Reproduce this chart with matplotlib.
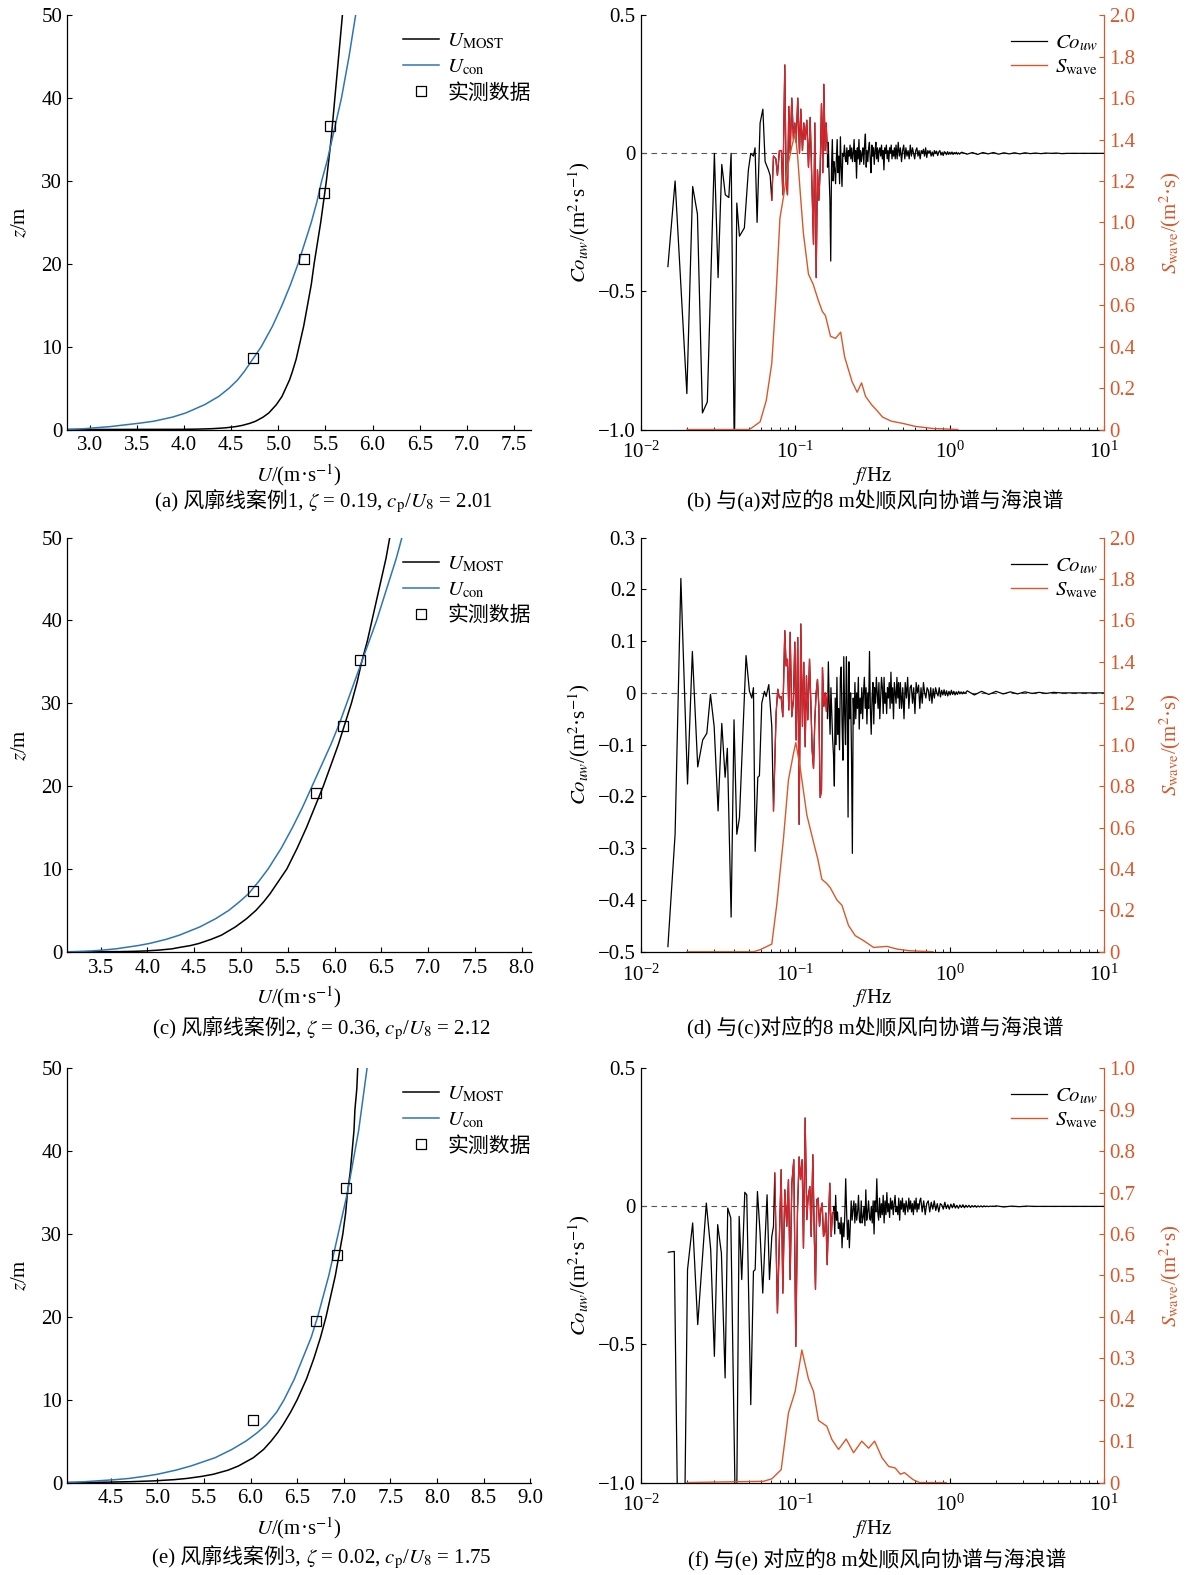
import numpy as np
import matplotlib
matplotlib.use('Agg')
import matplotlib.pyplot as plt
from matplotlib.ticker import FuncFormatter

plt.rcParams['font.family'] = ['Liberation Serif', 'Noto Sans CJK SC']
plt.rcParams['mathtext.fontset'] = 'stix'
plt.rcParams['font.size'] = 15
plt.rcParams['xtick.direction'] = 'in'
plt.rcParams['ytick.direction'] = 'in'
plt.rcParams['axes.linewidth'] = 0.9

BLUE = '#2e75b6'
ORANGE = '#d8582a'
RED = '#e1242b'

# ---------------- wind profiles (a), (c), (e) ----------------
prof_z = [0, 0.02, 0.05, 0.1, 0.2, 0.35, 0.5, 0.75, 1, 1.5, 2, 3, 4, 5, 6, 7, 8.5, 10, 12.5, 15,
          17.5, 20, 22.5, 25, 27.5, 30, 32.5, 35, 37.5, 40, 42.5, 45, 47.5, 50]

a_most = [2.76, 3.98, 4.16, 4.30, 4.44, 4.55, 4.62, 4.70, 4.76, 4.84, 4.90, 4.98, 5.04, 5.08, 5.12, 5.15,
          5.19, 5.22, 5.27, 5.31, 5.35, 5.38, 5.415, 5.45, 5.48, 5.51, 5.535, 5.56, 5.58, 5.60, 5.62,
          5.64, 5.66, 5.68]
a_con = [2.76, 2.80, 2.87, 2.95, 3.05, 3.22, 3.33, 3.52, 3.68, 3.88, 4.02, 4.22, 4.37, 4.48, 4.57, 4.64,
         4.73, 4.82, 4.94, 5.04, 5.13, 5.21, 5.28, 5.35, 5.41, 5.46, 5.52, 5.57, 5.62, 5.67, 5.71,
         5.75, 5.785, 5.82]
a_obs_u = [4.73, 5.27, 5.48, 5.55]
a_obs_z = [8.6, 20.6, 28.6, 36.6]

c_most = [3.14, 3.70, 3.85, 3.98, 4.12, 4.26, 4.33, 4.46, 4.55, 4.68, 4.79, 4.94, 5.06, 5.16, 5.24, 5.31,
          5.40, 5.49, 5.60, 5.70, 5.79, 5.88, 5.96, 6.04, 6.11, 6.18, 6.24, 6.29, 6.35, 6.40, 6.45,
          6.50, 6.55, 6.59]
c_con = [3.14, 3.22, 3.30, 3.40, 3.52, 3.66, 3.75, 3.90, 4.02, 4.20, 4.34, 4.56, 4.73, 4.87, 4.98, 5.08,
         5.19, 5.29, 5.43, 5.55, 5.66, 5.76, 5.86, 5.96, 6.05, 6.13, 6.21, 6.29, 6.37, 6.45, 6.52,
         6.59, 6.66, 6.72]
c_obs_u = [5.13, 5.80, 6.09, 6.27]
c_obs_z = [7.3, 19.2, 27.2, 35.2]

e_most = [4.03, 4.30, 4.48, 4.70, 4.96, 5.18, 5.32, 5.48, 5.60, 5.76, 5.87, 6.03, 6.14, 6.22, 6.29, 6.35,
          6.43, 6.50, 6.60, 6.68, 6.75, 6.81, 6.86, 6.91, 6.95, 6.99, 7.02, 7.04, 7.07, 7.09, 7.11,
          7.12, 7.14, 7.15]
e_con = [4.03, 4.08, 4.14, 4.22, 4.35, 4.55, 4.70, 4.86, 5.00, 5.20, 5.36, 5.62, 5.80, 5.95, 6.07, 6.17,
         6.28, 6.36, 6.47, 6.56, 6.65, 6.72, 6.78, 6.84, 6.89, 6.94, 6.99, 7.04, 7.08, 7.12, 7.16,
         7.19, 7.22, 7.25]
e_obs_u = [6.03, 6.70, 6.93, 7.02]
e_obs_z = [7.5, 19.5, 27.5, 35.6]

# ---------------- spectra (b) ----------------
b_f_lo = [0.0150, 0.0167, 0.0199, 0.0217, 0.0233, 0.0251, 0.0270, 0.0300, 0.0317, 0.0335, 0.0353, 0.0372,
          0.0385, 0.0404, 0.0419, 0.0436, 0.0469, 0.0498, 0.0516, 0.0537, 0.0550, 0.0567, 0.0593, 0.0618,
          0.0639, 0.0671, 0.0689, 0.0706]
b_co_lo = [-0.41, -0.10, -0.87, -0.12, -0.22, -0.94, -0.90, 0.00, -0.45, -0.04, -0.15, -0.16,
           0.00, -1.10, -0.18, -0.30, -0.27, -0.06, 0.00, -0.01, 0.02, -0.25, 0.11, 0.16,
           -0.03, -0.06, -0.08, -0.17]
b_f_red = [0.0706, 0.0724, 0.0750, 0.0768, 0.0791, 0.0815, 0.0832, 0.0857, 0.0874, 0.0892, 0.0910, 0.0928,
           0.0951, 0.0975, 0.0995, 0.1015, 0.1040, 0.1067, 0.1088, 0.1115, 0.1138, 0.1161, 0.1190, 0.1220,
           0.1251, 0.1282, 0.1315, 0.1341, 0.1368, 0.1395, 0.1424, 0.1452, 0.1481, 0.1511, 0.1534, 0.1564,
           0.1587, 0.1620]
b_co_red = [-0.17, -0.01, -0.02, -0.08, 0.01, 0.01, -0.15, 0.32, -0.10, -0.15, 0.17, 0.00,
            0.20, 0.05, 0.11, 0.04, 0.20, 0.00, 0.16, 0.01, 0.11, 0.05, 0.12, -0.05,
            0.13, -0.10, -0.33, 0.11, -0.45, -0.06, -0.17, -0.06, 0.18, -0.07, 0.25, 0.01,
            0.11, 0.00]
b_hf_edges = [0.162, 0.45, 1.2, 10.0]
b_co_hf = [
    [-0.05, 0.04, -0.08, -0.17, -0.39, -0.05, 0.05, -0.10, -0.03, -0.06,
     -0.11, -0.02, 0.05, -0.07, -0.01, -0.11, 0.06, -0.05, -0.12, 0.00,
     -0.01, 0.03, -0.02, -0.03, 0.02, -0.04, 0.01, -0.01, 0.03, -0.02,
     0.02, -0.03, 0.00, 0.05, -0.03, 0.01, -0.09, 0.02, -0.02, 0.05,
     -0.04, 0.01, -0.03, 0.00, 0.02, -0.04, 0.03, 0.07, -0.05, 0.01,
     -0.03, 0.02, 0.04, -0.02, -0.07, 0.03, -0.01, 0.02, -0.04, 0.01,
     0.04, -0.02, 0.02, -0.03, 0.01, 0.02, -0.01, 0.03, -0.02, 0.01,
     -0.06, 0.02, 0.00, 0.03, -0.02, 0.01, -0.03, 0.02, 0.00, 0.03,
     -0.02, 0.01, -0.01, 0.02, -0.02],
    [0.03, -0.02, 0.04, -0.01, 0.02, -0.03, 0.01, 0.03, -0.02, 0.02,
     -0.01, 0.01, -0.02, 0.03, -0.01, 0.02, 0.00, -0.02, 0.01, 0.02,
     -0.01, 0.01, -0.02, 0.01, 0.00, 0.015, -0.01, 0.02, -0.015, 0.01,
     0.00, 0.01, -0.01, 0.005, -0.01, 0.01, 0.00, 0.008, -0.008, 0.005,
     0.01, -0.006, 0.004, -0.008, 0.006, 0.003, -0.005, 0.006, -0.004, 0.004,
     -0.003, 0.005, -0.004, 0.003, -0.002, 0.004, -0.003, 0.002, -0.003, 0.002],
    [0.004, -0.003, 0.003, -0.004, 0.003, -0.002, 0.003, -0.003, 0.002, -0.002, 0.002, -0.002,
     0.002, -0.001, 0.001, -0.001, 0.001, 0.0, 0.001, -0.001, 0.0, 0.0, 0.0, 0.0, 0.0, 0.0, 0.0, 0.0],
]
b_sw_f = [0.0199, 0.0484, 0.0506, 0.0593, 0.0650, 0.0706, 0.0750, 0.0797, 0.0839, 0.0904, 0.0950, 0.1000,
          0.1035, 0.1080, 0.1130, 0.1220, 0.1310, 0.1410, 0.1500, 0.1571, 0.1694, 0.1828, 0.1971, 0.2092,
          0.2339, 0.2522, 0.2692, 0.2856, 0.3124, 0.340, 0.368, 0.42, 0.494, 0.60, 0.776, 1.13]
b_sw = [0.0, 0.0, 0.0, 0.037, 0.14, 0.32, 0.63, 1.02, 1.12, 1.285, 1.365, 1.43,
        1.33, 1.14, 0.95, 0.75, 0.70, 0.625, 0.57, 0.55, 0.45, 0.44, 0.47, 0.35,
        0.23, 0.18, 0.225, 0.16, 0.12, 0.09, 0.06, 0.04, 0.03, 0.015, 0.005, 0.0]

# ---------------- spectra (d) ----------------
d_f_lo = [0.0150, 0.0167, 0.0182, 0.0201, 0.0216, 0.0234, 0.0252, 0.0268, 0.0283, 0.0299, 0.0317, 0.0335,
          0.0352, 0.0364, 0.0385, 0.0402, 0.0419, 0.0436, 0.0481, 0.0506, 0.0524, 0.0537, 0.0551, 0.0573,
          0.0587, 0.0608, 0.0633, 0.0649, 0.0675, 0.0706]
d_co_lo = [-0.490, -0.273, 0.221, -0.176, 0.080, -0.143, -0.091, -0.078, -0.003, -0.065, -0.228, -0.059,
           -0.163, -0.107, -0.433, -0.052, -0.273, -0.241, 0.072, 0.003, -0.010, 0.010, -0.306, -0.163,
           -0.160, -0.020, 0.003, -0.007, 0.016, -0.065]
d_f_red = [0.0724, 0.0753, 0.0772, 0.0791, 0.0811, 0.0832, 0.0857, 0.0874, 0.0892, 0.0910, 0.0928, 0.0951,
           0.0975, 0.0995, 0.1015, 0.1040, 0.1061, 0.1088, 0.1115, 0.1138, 0.1161, 0.1184, 0.1208, 0.1239,
           0.1264, 0.1289, 0.1315, 0.1341, 0.1368, 0.1395, 0.1424, 0.1452, 0.1481, 0.1503, 0.1534, 0.1564,
           0.1595, 0.1620]
d_co_red = [-0.228, -0.039, 0.007, -0.010, -0.007, -0.046, 0.120, 0.052, 0.065, -0.033, 0.117, -0.046,
            -0.013, 0.098, -0.091, 0.107, -0.254, 0.133, -0.065, 0.059, -0.104, 0.033, -0.052, 0.065,
            -0.020, -0.111, -0.146, -0.052, 0.000, 0.026, -0.026, -0.202, -0.189, 0.049, -0.026, 0.000,
            -0.036, 0.000]
d_hf_edges = [0.162, 0.48, 1.3, 10.0]
d_co_hf = [
    [-0.05, 0.06, -0.02, -0.08, 0.01, -0.04, -0.09, -0.12, -0.18, -0.01,
     -0.10, 0.03, -0.08, -0.03, -0.11, 0.03, 0.05, -0.06, -0.13, 0.07,
     -0.04, -0.10, 0.07, -0.02, -0.24, 0.06, -0.05, 0.00, -0.12, -0.31,
     -0.01, -0.06, 0.02, -0.05, 0.00, -0.03, 0.03, -0.07, -0.01, -0.04,
     0.01, -0.05, 0.00, 0.03, -0.03, 0.01, -0.06, 0.00, -0.03, 0.08,
     -0.03, -0.08, -0.01, 0.02, -0.06, 0.01, -0.02, 0.03, 0.00, -0.03,
     0.02, -0.05, -0.01, 0.03, 0.01, -0.04, 0.03, -0.02, 0.00, -0.04,
     0.01, -0.01, 0.02, -0.03, 0.04, -0.02, 0.01, -0.05, 0.02, 0.00,
     -0.02, 0.03, -0.01, 0.02, -0.03],
    [0.02, -0.03, 0.01, -0.05, 0.02, -0.01, 0.03, -0.03, 0.01, 0.015,
     -0.02, 0.01, -0.04, 0.02, 0.00, 0.015, -0.03, 0.01, -0.02, 0.02,
     0.00, -0.01, 0.01, 0.005, -0.015, 0.01, -0.02, 0.008, -0.01, 0.01,
     0.00, -0.006, 0.01, -0.008, 0.005, -0.004, 0.006, -0.005, 0.004, -0.006,
     0.003, -0.004, 0.005, -0.003, 0.003, -0.004, 0.002, -0.003, 0.003, -0.002,
     0.002, -0.002, 0.002, -0.001, 0.001],
    [0.004, -0.004, 0.003, -0.003, 0.003, -0.002, 0.002, -0.002, 0.002, -0.001, 0.001, -0.001,
     0.001, 0.0, 0.0, 0.0, 0.0, 0.0, 0.0, 0.0],
]
d_sw_f = [0.0199, 0.0537, 0.0593, 0.0706, 0.0761, 0.0841, 0.0905, 0.0975, 0.1010, 0.1077, 0.1191, 0.1314,
          0.1400, 0.1489, 0.1600, 0.1686, 0.1864, 0.2008, 0.2216, 0.2448, 0.2771, 0.3218, 0.3929, 0.4561,
          0.55, 0.78]
d_sw = [0.0, 0.0, 0.01, 0.037, 0.23, 0.55, 0.83, 0.957, 1.01, 0.89, 0.66, 0.53,
        0.45, 0.35, 0.33, 0.31, 0.25, 0.225, 0.127, 0.078, 0.054, 0.021, 0.026, 0.013,
        0.005, 0.0]

# ---------------- spectra (f) ----------------
f_f_lo = [0.0151, 0.0165, 0.0175, 0.0191, 0.0201, 0.0217, 0.0234, 0.0266, 0.0284, 0.0300, 0.0315, 0.0333,
          0.0352, 0.0366, 0.0383, 0.0415, 0.0434, 0.0451, 0.0472, 0.0486, 0.0516, 0.0537, 0.0551, 0.0570,
          0.0593, 0.0617, 0.0658, 0.0682, 0.0706, 0.0724, 0.0738]
f_co_lo = [-0.166, -0.163, -1.30, -1.30, -0.229, -0.060, -0.428, 0.012, -0.157, -0.543, -0.066, -0.169,
           -0.621, -0.006, -0.042, -1.30, -0.036, -0.265, 0.051, 0.042, -0.718, -0.235, -0.229, 0.054,
           -0.097, -0.314, 0.042, -0.265, -0.109, -0.072, 0.121]
f_f_red = [0.0738, 0.0768, 0.0812, 0.0832, 0.0857, 0.0883, 0.0905, 0.0928, 0.0952, 0.0980, 0.1010, 0.1035,
           0.1061, 0.1083, 0.1110, 0.1132, 0.1161, 0.1190, 0.1214, 0.1245, 0.1270, 0.1302, 0.1328, 0.1354,
           0.1381, 0.1409, 0.1438, 0.1467, 0.1496, 0.1526, 0.1557, 0.1580, 0.1612, 0.1644, 0.1677, 0.1711,
           0.1745, 0.1780]
f_co_red = [0.121, -0.386, 0.133, -0.314, 0.060, -0.072, 0.097, -0.265, 0.084, 0.169, -0.507, -0.024,
            0.179, 0.097, 0.169, -0.151, 0.320, -0.048, 0.036, 0.072, -0.109, 0.187, -0.084, -0.300,
            0.024, 0.030, -0.072, -0.012, 0.012, -0.109, -0.091, -0.024, -0.211, -0.048, 0.084, -0.109,
            -0.024, -0.018]
f_hf_edges = [0.178, 0.65, 2.0, 10.0]
f_co_hf = [
    [0.00, -0.10, 0.04, -0.05, -0.02, -0.08, -0.06, -0.10, -0.04, -0.15,
     -0.06, -0.11, -0.03, 0.10, -0.02, -0.12, -0.05, -0.15, -0.07, 0.02,
     -0.05, -0.01, 0.02, -0.06, 0.01, -0.05, -0.02, 0.04, -0.05, -0.06,
     0.02, -0.06, -0.04, 0.00, -0.07, 0.06, -0.05, -0.02, 0.02, -0.04,
     -0.05, 0.00, -0.06, 0.02, -0.10, 0.02, -0.02, 0.10, -0.02, -0.05,
     0.03, -0.04, 0.01, -0.03, 0.04, -0.06, 0.02, -0.03, 0.05, -0.02,
     0.01, -0.04, 0.03, -0.01, 0.02, -0.03, 0.01, 0.04, -0.02, 0.00,
     -0.03, 0.03, -0.05, 0.02, -0.01, 0.03, -0.02, 0.01, -0.03, 0.02,
     0.00, -0.02, 0.03, -0.01, 0.02, -0.02, 0.01, -0.03, 0.02, -0.01,
     0.03, -0.02, 0.01, -0.01, 0.02],
    [0.03, -0.02, 0.02, -0.03, 0.01, 0.02, -0.02, 0.015, -0.01, 0.02,
     -0.015, 0.01, -0.02, 0.01, 0.005, -0.01, 0.015, -0.008, 0.006, -0.01,
     0.008, -0.005, 0.01, -0.006, 0.004, -0.007, 0.005, -0.004, 0.006, -0.005,
     0.004, -0.003, 0.004, -0.004, 0.003, -0.002, 0.003, -0.003, 0.002, -0.002,
     0.002, -0.002, 0.002, -0.001, 0.001, -0.001, 0.001, 0.0, 0.001, 0.0],
    [0.002, -0.002, 0.001, -0.001, 0.001, 0.0, 0.0, 0.0, 0.0, 0.0, 0.0, 0.0, 0.0, 0.0, 0.0],
]
f_sw_f = [0.0199, 0.0624, 0.0707, 0.0812, 0.0905, 0.100, 0.1105, 0.122, 0.1315, 0.1416, 0.1603, 0.1729,
          0.191, 0.214, 0.239, 0.270, 0.299, 0.327, 0.365, 0.403, 0.445, 0.480, 0.51, 0.58, 0.64, 0.95]
f_sw = [0.0, 0.003, 0.009, 0.031, 0.168, 0.22, 0.32, 0.25, 0.22, 0.15, 0.136, 0.104,
        0.08, 0.105, 0.072, 0.10, 0.083, 0.10, 0.06, 0.039, 0.035, 0.02, 0.024, 0.007, 0.0, 0.0]


def tick_fmt(v, pos):
    if abs(v) < 1e-9:
        return '0'
    return f'{v:.1f}'.replace('-', '\u2212')


def draw_profile(ax, u_most, u_con, obs_u, obs_z, xlim, xticks):
    ax.plot(u_most, prof_z, color='k', lw=1.1, label=r'$U_\mathrm{MOST}$')
    ax.plot(u_con, prof_z, color=BLUE, lw=1.1, label=r'$U_\mathrm{con}$')
    ax.plot(obs_u, obs_z, 's', ms=6.5, mfc='none', mec='k', mew=0.9, label='实测数据')
    ax.set_xlim(xlim)
    ax.set_ylim(0, 50)
    ax.set_xticks(xticks)
    ax.set_xticklabels([f'{t:.1f}' for t in xticks])
    ax.set_yticks([0, 10, 20, 30, 40, 50])
    ax.tick_params(axis='x', pad=5)
    ax.spines['top'].set_visible(False)
    ax.spines['right'].set_visible(False)
    ax.set_xlabel(r'$U$/(m·s$^{-1}$)', labelpad=5)
    ax.set_ylabel(r'$z$/m', labelpad=8)
    ax.legend(loc='upper right', bbox_to_anchor=(1.035, 1.0), frameon=False, handlelength=1.7,
              handletextpad=0.4, labelspacing=0.3, numpoints=1, borderaxespad=0.4)


def draw_spectrum(ax, f_lo, co_lo, f_red, co_red, hf_edges, co_hf, sw_f, sw,
                  ylim, yticks, sw_ylim, sw_ticks):
    f_hf = []
    for i, vals in enumerate(co_hf):
        last = i == len(co_hf) - 1
        f_hf.extend(np.geomspace(hf_edges[i], hf_edges[i + 1], len(vals), endpoint=last))
    co_hf_all = [v for vals in co_hf for v in vals]

    ax.axhline(0, color='#555555', ls=(0, (5, 4)), lw=0.8)
    f_all = list(f_lo) + list(f_red) + list(f_hf)
    co_all = list(co_lo) + list(co_red) + co_hf_all
    l1, = ax.plot(f_all, co_all, color='k', lw=0.9, label=r'$Co_{uw}$')
    ax.plot(f_red, co_red, color=RED, lw=0.9)
    ax.set_xscale('log')
    ax.set_xlim(0.01, 10)
    ax.set_ylim(ylim)
    ax.set_yticks(yticks)
    ax.yaxis.set_major_formatter(FuncFormatter(tick_fmt))
    ax.tick_params(axis='x', which='major', pad=9)
    ax.spines['top'].set_visible(False)
    ax.spines['right'].set_visible(False)
    ax.set_xlabel(r'$f$/Hz', labelpad=1)
    ax.set_ylabel(r'$Co_{uw}$/(m$^2$·s$^{-1}$)', labelpad=4)

    ax2 = ax.twinx()
    l2, = ax2.plot(sw_f, sw, color=ORANGE, lw=1.0, label=r'$S_\mathrm{wave}$')
    ax2.set_ylim(sw_ylim)
    ax2.set_yticks(sw_ticks)
    ax2.yaxis.set_major_formatter(FuncFormatter(tick_fmt))
    ax2.tick_params(axis='y', colors=ORANGE)
    for s in ['top', 'left', 'bottom']:
        ax2.spines[s].set_visible(False)
    ax2.spines['right'].set_color(ORANGE)
    ax2.set_ylabel(r'$S_\mathrm{wave}$/(m$^2$·s)', color=ORANGE, labelpad=16)
    ax2.legend(handles=[l1, l2], loc='upper right', bbox_to_anchor=(1.028, 1.0), frameon=False,
               handlelength=1.7, handletextpad=0.4, labelspacing=0.2, borderaxespad=0.5)


def caption(fig, xc, y, parts):
    # draw pieces side by side, then centre the whole line on xc
    r = fig.canvas.get_renderer()
    texts = [fig.text(0, y, s, ha='left', va='baseline', fontsize=15) for s in parts]
    widths = [t.get_window_extent(r).width for t in texts]
    x = xc * fig.bbox.width - sum(widths) / 2
    for t, w in zip(texts, widths):
        t.set_x(x / fig.bbox.width)
        x += w


fig = plt.figure(figsize=(11.92, 15.75), dpi=100)

L_left, L_w = 0.0562, 0.3893
R_left, R_w = 0.5375, 0.3887
rows_b = [0.7273, 0.3957, 0.0587]
H = 0.263

ax_a = fig.add_axes([L_left, rows_b[0], L_w, H])
ax_c = fig.add_axes([L_left, rows_b[1], L_w, H])
ax_e = fig.add_axes([L_left, rows_b[2], L_w, H])
ax_b = fig.add_axes([R_left, rows_b[0], R_w, H])
ax_d = fig.add_axes([R_left, rows_b[1], R_w, H])
ax_f = fig.add_axes([R_left, rows_b[2], R_w, H])

draw_profile(ax_a, a_most, a_con, a_obs_u, a_obs_z, (2.76, 7.68), [3.0, 3.5, 4.0, 4.5, 5.0, 5.5, 6.0, 6.5, 7.0, 7.5])
draw_profile(ax_c, c_most, c_con, c_obs_u, c_obs_z, (3.14, 8.10), [3.5, 4.0, 4.5, 5.0, 5.5, 6.0, 6.5, 7.0, 7.5, 8.0])
draw_profile(ax_e, e_most, e_con, e_obs_u, e_obs_z, (4.03, 9.01), [4.5, 5.0, 5.5, 6.0, 6.5, 7.0, 7.5, 8.0, 8.5, 9.0])

sw2 = [0, 0.2, 0.4, 0.6, 0.8, 1.0, 1.2, 1.4, 1.6, 1.8, 2.0]
draw_spectrum(ax_b, b_f_lo, b_co_lo, b_f_red, b_co_red, b_hf_edges, b_co_hf, b_sw_f, b_sw,
              (-1.0, 0.5), [-1.0, -0.5, 0, 0.5], (0, 2.0), sw2)
draw_spectrum(ax_d, d_f_lo, d_co_lo, d_f_red, d_co_red, d_hf_edges, d_co_hf, d_sw_f, d_sw,
              (-0.5, 0.3), [-0.5, -0.4, -0.3, -0.2, -0.1, 0, 0.1, 0.2, 0.3], (0, 2.0), sw2)
draw_spectrum(ax_f, f_f_lo, f_co_lo, f_f_red, f_co_red, f_hf_edges, f_co_hf, f_sw_f, f_sw,
              (-1.0, 0.5), [-1.0, -0.5, 0, 0.5], (0, 1.0),
              [0, 0.1, 0.2, 0.3, 0.4, 0.5, 0.6, 0.7, 0.8, 0.9, 1.0])

caption(fig, 0.2718, 0.678, ['(a) 风廓线案例1,', r' $\zeta$ = 0.19, $c_\mathrm{p}$/$U_8$ = 2.01'])
caption(fig, 0.734, 0.678, ['(b) 与(a)对应的8 m处顺风向协谱与海浪谱'])
caption(fig, 0.270, 0.343, ['(c) 风廓线案例2,', r' $\zeta$ = 0.36, $c_\mathrm{p}$/$U_8$ = 2.12'])
caption(fig, 0.734, 0.343, ['(d) 与(c)对应的8 m处顺风向协谱与海浪谱'])
caption(fig, 0.270, 0.0075, ['(e) 风廓线案例3,', r' $\zeta$ = 0.02, $c_\mathrm{p}$/$U_8$ = 1.75'])
caption(fig, 0.736, 0.0055, ['(f) 与(e) 对应的8 m处顺风向协谱与海浪谱'])

fig.savefig('out.png', dpi=100)
